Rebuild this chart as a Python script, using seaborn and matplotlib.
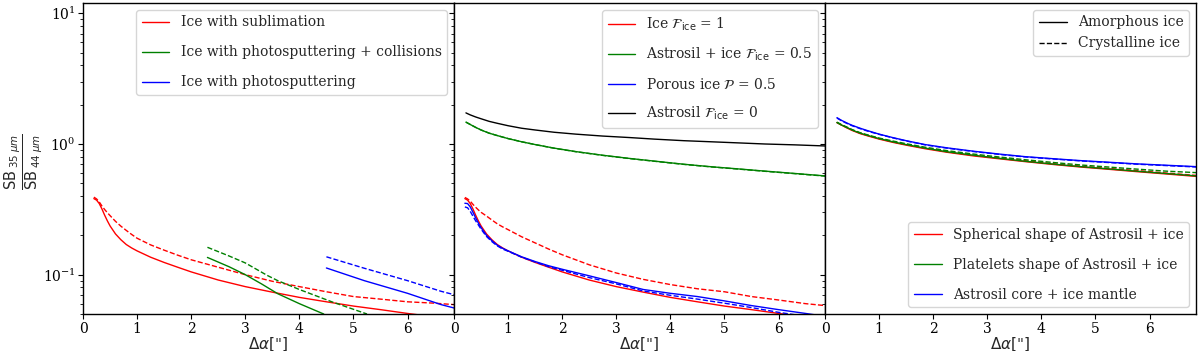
import matplotlib
matplotlib.use("Agg")
import matplotlib.pyplot as plt
from matplotlib.lines import Line2D
import seaborn as sns
import pandas as pd

# ---------------------------------------------------------
# data (x = offset in arcsec, y = SB35/SB44)
# ---------------------------------------------------------
# panel 1: ice with sublimation / photosputtering (+ collisions)
low_x = [0.2, 0.25, 0.3, 0.35, 0.4, 0.45, 0.5, 0.6, 0.7, 0.8, 0.9, 1.0, 1.25, 1.5, 1.75,
         2.0, 2.5, 3.0, 3.5, 4.0, 4.5, 5.0, 5.5, 6.0, 6.5, 6.86]
subl_am = [0.382, 0.372, 0.35, 0.318, 0.285, 0.258, 0.236, 0.205, 0.185, 0.170, 0.16, 0.152, 0.136, 0.124, 0.114,
           0.105, 0.091, 0.081, 0.0735, 0.067, 0.062, 0.0575, 0.054, 0.0505, 0.0475, 0.0455]
subl_cr = [0.392, 0.38, 0.36, 0.335, 0.315, 0.298, 0.283, 0.256, 0.235, 0.218, 0.203, 0.19, 0.169, 0.154, 0.141,
           0.130, 0.114, 0.100, 0.089, 0.081, 0.074, 0.068, 0.065, 0.062, 0.0605, 0.059]

coll_x = [2.3, 2.7, 3.0, 3.3, 3.6, 4.0, 4.45]
coll_am = [0.1355, 0.115, 0.100, 0.085, 0.0715, 0.060, 0.050]
coll_cr_x = [2.3, 2.7, 3.0, 3.4, 3.6, 4.0, 4.6, 5.25]
coll_cr = [0.162, 0.139, 0.123, 0.099, 0.090, 0.077, 0.062, 0.050]

phot_x = [4.5, 5.2, 6.0, 6.62, 6.86]
phot_am = [0.1125, 0.090, 0.072, 0.059, 0.0556]
phot_cr = [0.137, 0.112, 0.090, 0.0746, 0.0703]

# panel 2: ice fraction / porosity
ice_am = subl_am
ice_cr = [0.39, 0.38, 0.365, 0.345, 0.328, 0.313, 0.30, 0.281, 0.262, 0.245, 0.232, 0.221, 0.195, 0.175, 0.157,
          0.142, 0.119, 0.103, 0.092, 0.084, 0.078, 0.074, 0.068, 0.064, 0.060, 0.058]
por_am = [0.352, 0.35, 0.33, 0.30, 0.272, 0.248, 0.229, 0.200, 0.182, 0.168, 0.159, 0.152, 0.137, 0.126, 0.117,
          0.110, 0.098, 0.087, 0.077, 0.072, 0.068, 0.063, 0.058, 0.054, 0.0505, 0.048]
por_cr = [0.33, 0.325, 0.305, 0.28, 0.258, 0.24, 0.223, 0.196, 0.179, 0.166, 0.157, 0.151, 0.136, 0.125, 0.115,
          0.108, 0.095, 0.085, 0.075, 0.0695, 0.065, 0.0605, 0.056, 0.0515, 0.048, 0.046]

high_x = [0.22, 0.3, 0.4, 0.5, 0.65, 0.8, 1.0, 1.25, 1.5, 1.85, 2.25, 2.75, 3.25, 3.7,
          4.25, 4.75, 5.25, 5.75, 6.3, 6.86]
mix_am = [1.47, 1.41, 1.34, 1.28, 1.21, 1.16, 1.10, 1.04, 0.99, 0.93, 0.875, 0.82, 0.775, 0.74,
          0.70, 0.67, 0.645, 0.62, 0.595, 0.57]
mix_cr = [1.47, 1.41, 1.34, 1.28, 1.21, 1.16, 1.10, 1.04, 0.99, 0.928, 0.873, 0.818, 0.773, 0.738,
          0.698, 0.668, 0.643, 0.618, 0.593, 0.568]
sil_am = [1.73, 1.67, 1.61, 1.56, 1.49, 1.44, 1.38, 1.32, 1.28, 1.23, 1.19, 1.15, 1.12, 1.09,
          1.06, 1.04, 1.02, 1.0, 0.985, 0.966]

# panel 3: grain shape / structure
sph_am = [1.46, 1.40, 1.33, 1.27, 1.20, 1.15, 1.09, 1.03, 0.98, 0.92, 0.865, 0.81, 0.768, 0.733,
          0.695, 0.665, 0.64, 0.615, 0.59, 0.565]
sph_cr = [1.46, 1.40, 1.34, 1.28, 1.21, 1.16, 1.10, 1.04, 0.99, 0.93, 0.875, 0.82, 0.78, 0.745,
          0.705, 0.676, 0.65, 0.627, 0.60, 0.575]
plat_am = [1.46, 1.40, 1.34, 1.28, 1.21, 1.16, 1.10, 1.04, 0.99, 0.93, 0.873, 0.82, 0.775, 0.738,
           0.70, 0.67, 0.645, 0.62, 0.595, 0.57]
plat_cr = [1.47, 1.41, 1.35, 1.29, 1.22, 1.17, 1.11, 1.055, 1.005, 0.945, 0.89, 0.837, 0.793, 0.758,
           0.72, 0.69, 0.666, 0.643, 0.62, 0.604]
core_am = [1.59, 1.52, 1.45, 1.39, 1.32, 1.26, 1.19, 1.12, 1.06, 0.99, 0.935, 0.88, 0.835, 0.80,
           0.77, 0.745, 0.725, 0.705, 0.688, 0.671]
core_cr = [1.58, 1.51, 1.44, 1.38, 1.31, 1.25, 1.185, 1.115, 1.055, 0.985, 0.93, 0.875, 0.83, 0.796,
           0.766, 0.741, 0.721, 0.701, 0.684, 0.667]

# ---------------------------------------------------------
sns.set_style("ticks")
plt.rcParams['font.family'] = ['DejaVu Serif']
plt.rcParams['mathtext.fontset'] = 'dejavusans'
plt.rcParams['axes.edgecolor'] = 'black'
plt.rcParams['xtick.color'] = 'black'
plt.rcParams['ytick.color'] = 'black'


def curve(ax, x, y, color, ls='-'):
    df = pd.DataFrame({'x': x, 'y': y})
    sns.lineplot(data=df, x='x', y='y', ax=ax, color=color, linestyle=ls,
                 linewidth=1.0, estimator=None, sort=False)


fig, axes = plt.subplots(1, 3, figsize=(12, 3.51), dpi=100, sharey=True)
fig.subplots_adjust(left=0.0692, right=0.9967, top=0.9915, bottom=0.1054, wspace=0)

ax1, ax2, ax3 = axes

# panel 1
curve(ax1, low_x, subl_am, 'red')
curve(ax1, low_x, subl_cr, 'red', '--')
curve(ax1, coll_x, coll_am, 'green')
curve(ax1, coll_cr_x, coll_cr, 'green', '--')
curve(ax1, phot_x, phot_am, 'blue')
curve(ax1, phot_x, phot_cr, 'blue', '--')
h1 = [Line2D([], [], color='red', lw=1), Line2D([], [], color='green', lw=1),
      Line2D([], [], color='blue', lw=1)]
ax1.legend(h1, ['Ice with sublimation', 'Ice with photosputtering + collisions',
                'Ice with photosputtering'], loc='upper right', fontsize=10,
           labelspacing=1.15)

# panel 2
curve(ax2, low_x, ice_am, 'red')
curve(ax2, low_x, ice_cr, 'red', '--')
curve(ax2, high_x, mix_am, 'green')
curve(ax2, high_x, mix_cr, 'green', '--')
curve(ax2, low_x, por_am, 'blue')
curve(ax2, low_x, por_cr, 'blue', '--')
curve(ax2, high_x, sil_am, 'black')
h2 = [Line2D([], [], color=c, lw=1) for c in ['red', 'green', 'blue', 'black']]
ax2.legend(h2, [r'Ice $\mathcal{F}_{\rm ice}$ = 1',
                r'Astrosil + ice $\mathcal{F}_{\rm ice}$ = 0.5',
                r'Porous ice $\mathcal{P}$ = 0.5',
                r'Astrosil $\mathcal{F}_{\rm ice}$ = 0'],
           loc='upper right', fontsize=10, labelspacing=0.95)

# panel 3
curve(ax3, high_x, sph_am, 'red')
curve(ax3, high_x, sph_cr, 'red', '--')
curve(ax3, high_x, plat_am, 'green')
curve(ax3, high_x, plat_cr, 'green', '--')
curve(ax3, high_x, core_am, 'blue')
curve(ax3, high_x, core_cr, 'blue', '--')
h3a = [Line2D([], [], color='black', lw=1), Line2D([], [], color='black', lw=1, ls='--')]
leg3a = ax3.legend(h3a, ['Amorphous ice', 'Crystalline ice'], loc='upper right', fontsize=10)
ax3.add_artist(leg3a)
h3b = [Line2D([], [], color=c, lw=1) for c in ['red', 'green', 'blue']]
ax3.legend(h3b, ['Spherical shape of Astrosil + ice', 'Platelets shape of Astrosil + ice',
                 'Astrosil core + ice mantle'], loc='lower right', fontsize=10,
           labelspacing=1.15)

for ax in axes:
    ax.set_yscale('log')
    ax.set_xlim(0, 6.86)
    ax.set_ylim(0.05, 12)
    ax.set_xticks(range(0, 7))
    ax.set_xlabel(r'$\Delta\alpha[$"$]$', fontsize=11, labelpad=0)
    ax.set_ylabel('')
    ax.tick_params(which='both', direction='out', labelsize=10, pad=2)
    for s in ax.spines.values():
        s.set_visible(True)
        s.set_linewidth(1.0)

ax1.set_ylabel(r'$\dfrac{\mathrm{SB}_{\;35\;\mu m}}{\mathrm{SB}_{\;44\;\mu m}}$', fontsize=10.5)
ax1.yaxis.set_label_coords(-0.104, 0.49)

fig.savefig('out.png', dpi=100)
